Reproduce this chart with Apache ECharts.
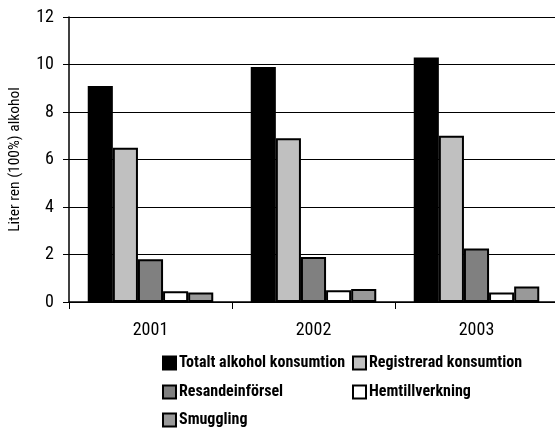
<!DOCTYPE html>
<html>
<head>
<meta charset="utf-8">
<script src="https://cdn.jsdelivr.net/npm/echarts@6/dist/echarts.min.js"></script>
<style>
  html, body { margin: 0; padding: 0; background: #fff; }
  #chart { width: 555px; height: 430px; }
</style>
</head>
<body>
<div id="chart"></div>
<script>
// Alcohol consumption per inhabitant, litres of pure alcohol
const years = ['2001', '2002', '2003'];
const seriesNames = [
  'Totalt alkohol konsumtion',
  'Registrerad konsumtion',
  'Resandeinförsel',
  'Hemtillverkning',
  'Smuggling'
];
const totalt = [9.1, 9.9, 10.3];
const registrerad = [6.5, 6.9, 7.0];
const resande = [1.8, 1.9, 2.25];
const hemtillverkning = [0.45, 0.5, 0.4];
const smuggling = [0.4, 0.55, 0.65];
const yTicks = [0, 2, 4, 6, 8, 10, 12];

const seriesValues = [totalt, registrerad, resande, hemtillverkning, smuggling];
const fills = ['#000000', '#c0c0c0', '#808080', '#ffffff', '#999999'];

const FONT = '"Roboto Condensed", "DejaVu Sans", sans-serif';

const chart = echarts.init(document.getElementById('chart'), null, { renderer: 'canvas' });

// one legend block per entry, laid out in two columns
const legendSlots = [
  { left: 162, top: 355 },
  { left: 352, top: 355 },
  { left: 162, top: 384 },
  { left: 352, top: 384 },
  { left: 162, top: 412 }
];

const option = {
  backgroundColor: '#ffffff',
  animation: false,
  grid: {
    left: 69, top: 17, width: 489, height: 285,
    containLabel: false,
    outerBoundsMode: 'none'
  },
  legend: seriesNames.map((name, i) => ({
    data: [name],
    left: legendSlots[i].left,
    top: legendSlots[i].top,
    padding: 0,
    itemWidth: 13,
    itemHeight: 13,
    itemGap: 0,
    icon: 'rect',
    selectedMode: false,
    textStyle: { fontFamily: FONT, fontWeight: 'bold', fontSize: 16, color: '#000', padding: [0, 0, 0, -2] }
  })),
  xAxis: {
    type: 'category',
    data: years,
    axisLine: { lineStyle: { color: '#000', width: 1.5 } },
    axisTick: { show: true, length: 7, alignWithLabel: false, lineStyle: { color: '#000', width: 1 } },
    axisLabel: { margin: 19, fontFamily: FONT, fontSize: 18, color: '#000' },
    splitLine: { show: false }
  },
  yAxis: {
    type: 'value',
    min: yTicks[0],
    max: yTicks[yTicks.length - 1],
    interval: yTicks[1] - yTicks[0],
    name: 'Liter ren (100%) alkohol',
    nameLocation: 'middle',
    nameRotate: 90,
    nameGap: 46,
    nameTextStyle: { fontFamily: FONT, fontSize: 15.5, color: '#000' },
    axisLine: { show: true, lineStyle: { color: '#000', width: 1.5 } },
    axisTick: { show: true, length: 6, lineStyle: { color: '#000', width: 1 } },
    axisLabel: { margin: 15, fontFamily: FONT, fontSize: 18, color: '#000' },
    splitLine: { show: true, lineStyle: { color: '#000', width: 1 } }
  },
  series: seriesNames.map((name, i) => ({
    name: name,
    type: 'bar',
    data: seriesValues[i],
    barGap: '0%',
    barCategoryGap: '23%',
    itemStyle: { color: fills[i], borderColor: '#000', borderWidth: 2 }
  }))
};

chart.setOption(option);
</script>
</body>
</html>
